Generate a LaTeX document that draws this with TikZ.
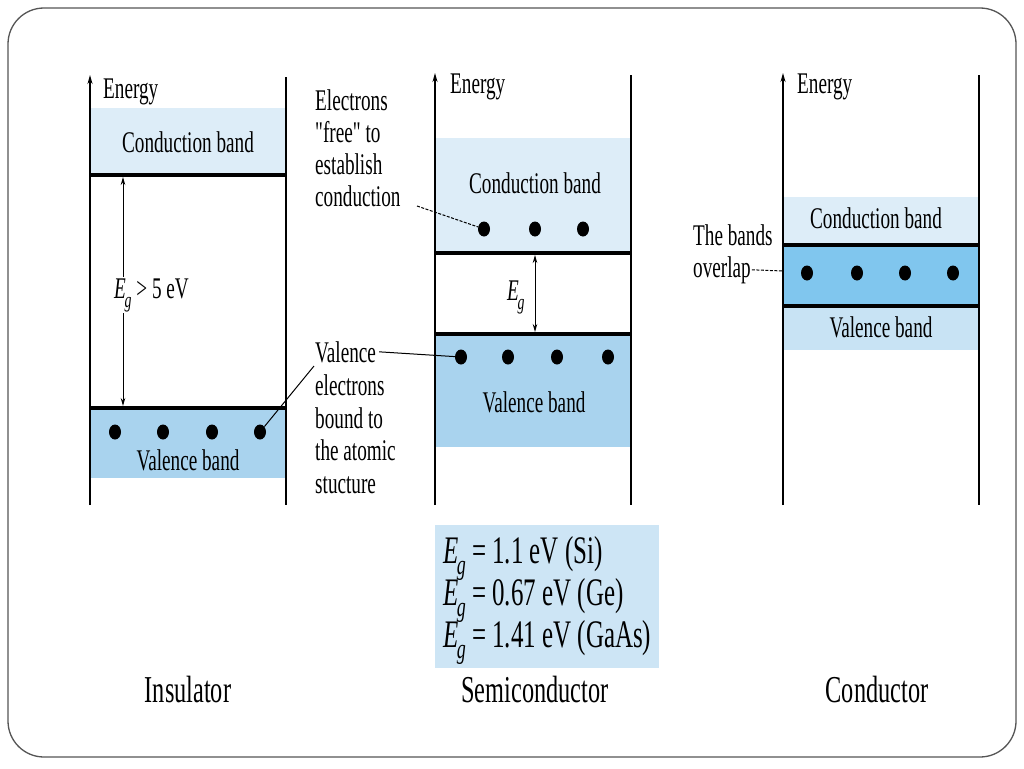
\documentclass[tikz,border=0pt]{standalone}
\usepackage{fontspec}
\usepackage{graphicx}
\setmainfont{Liberation Serif}[FakeStretch=0.64]
\newfontfamily\qf{Liberation Serif}[FakeStretch=0.64,Ligatures=TeXOff]
\usetikzlibrary{arrows.meta,shapes.geometric}
\definecolor{cbfill}{HTML}{DDEDF8}
\definecolor{vbfill}{HTML}{A9D3EE}
\definecolor{ovfill}{HTML}{80C6EE}
\definecolor{egfill}{HTML}{CDE5F5}
\definecolor{framec}{HTML}{555555}
\newcommand\Eg{\textit{E}\kern-0.04em\raisebox{-0.3em}{\scalebox{0.72}{\textit{g}}}}
\newcommand\sq{{\qf"}}
\tikzset{
  frame/.style={draw=framec, line width=1.3pt, rounded corners=36pt},
  axis/.style={line width=1.4pt, -{Stealth[length=9pt,width=5pt]}},
  side/.style={line width=1.4pt},
  edge/.style={line width=3.6pt},
  gaparrow/.style={line width=1pt, {Stealth[length=8pt,width=4.5pt]}-{Stealth[length=8pt,width=4.5pt]}},
  lead/.style={line width=1pt},
  dashlead/.style={line width=1pt, dash pattern=on 3pt off 1.5pt},
  dot/.style={ellipse, fill=black, inner sep=0, minimum width=12pt, minimum height=15pt},
  txt/.style={inner sep=0, font=\fontsize{30}{32}\selectfont, anchor=base},
  ltxt/.style={txt, anchor=base west},
  etxt/.style={ltxt, font=\fontsize{30}{32}\selectfont},
  big/.style={inner sep=0, font=\fontsize{38}{40}\selectfont, anchor=base},
  bigl/.style={big, anchor=base west, font=\fontsize{39}{41}\selectfont}
}
\begin{document}
\begin{tikzpicture}[x=1pt,y=-1pt]
\useasboundingbox (0,0) rectangle (1024,768);
\fill[white] (0,0) rectangle (1024,768);
\draw[frame] (8,8) rectangle (1016,757);

%% ---------------- Insulator ----------------
\fill[cbfill] (90,108) rectangle (286,175);
\fill[vbfill] (90,408) rectangle (286,478);
\coordinate (i-a0) at (90,505); \coordinate (i-a1) at (90,75);
\draw[axis] (i-a0) -- (i-a1);
\draw[side] (286,77) -- (286,505);
\draw[edge] (90,175) -- (286,175);
\draw[edge] (90,408) -- (286,408);
\node[etxt] (i-en) at (103,98) {Energy};
\node[txt] (i-cb) at (188,152) {Conduction band};
\coordinate (i-g0) at (123,177); \coordinate (i-g1) at (123,406);
\draw[gaparrow] (i-g0) -- (i-g1);
\node[ltxt, fill=white, inner sep=1pt] (i-eg) at (113,298) {\Eg{} > 5 eV};
\node[dot] (i-d1) at (115,432) {};
\node[dot] (i-d2) at (163,432) {};
\node[dot] (i-d3) at (212,432) {};
\node[dot] (i-d4) at (260,432) {};
\node[txt] (i-vb) at (188,470) {Valence band};

%% ---------------- Semiconductor ----------------
\fill[cbfill] (435,138) rectangle (631,253);
\fill[vbfill] (435,334) rectangle (631,447);
\coordinate (s-a0) at (435,505); \coordinate (s-a1) at (435,73);
\draw[axis] (s-a0) -- (s-a1);
\draw[side] (631,75) -- (631,505);
\draw[edge] (435,253) -- (631,253);
\draw[edge] (435,334) -- (631,334);
\node[etxt] (s-en) at (450,93) {Energy};
\node[txt] (s-cb) at (535,193) {Conduction band};
\node[dot] (s-c1) at (484,229) {};
\node[dot] (s-c2) at (535,229) {};
\node[dot] (s-c3) at (583,229) {};
\coordinate (s-g0) at (535,255); \coordinate (s-g1) at (535,332);
\draw[gaparrow] (s-g0) -- (s-g1);
\node[ltxt] (s-eg) at (507,300) {\Eg};
\node[dot] (s-d1) at (461,357) {};
\node[dot] (s-d2) at (508,357) {};
\node[dot] (s-d3) at (557,357) {};
\node[dot] (s-d4) at (608,357) {};
\node[txt] (s-vb) at (534,412) {Valence band};

% side labels
\node[ltxt] (s-e1) at (315,110) {Electrons};
\node[ltxt] (s-e2) at (315,142) {\sq free\sq{} to};
\node[ltxt] (s-e3) at (315,174) {establish};
\node[ltxt] (s-e4) at (315,206) {conduction};
\coordinate (s-el) at (417,206);
\draw[dashlead] (s-el) -- (s-c1);

\node[ltxt] (s-v1) at (315,362) {Valence};
\node[ltxt] (s-v2) at (315,395) {electrons};
\node[ltxt] (s-v3) at (315,428) {bound to};
\node[ltxt] (s-v4) at (315,460) {the atomic};
\node[ltxt] (s-v5) at (315,493) {stucture};
\draw[lead] ([xshift=3pt]s-v1.east) -- (s-d1);
\draw[lead] (i-d4) -- ([xshift=-1pt,yshift=-4pt]s-v1.base west);

%% ---------------- Conductor ----------------
\fill[cbfill] (783,197) rectangle (979,245);
\fill[ovfill] (783,245) rectangle (979,306);
\fill[cbfill!60!vbfill] (783,306) rectangle (979,350);
\coordinate (c-a0) at (783,505); \coordinate (c-a1) at (783,73);
\draw[axis] (c-a0) -- (c-a1);
\draw[side] (979,75) -- (979,505);
\draw[edge] (783,245) -- (979,245);
\draw[edge] (783,306) -- (979,306);
\node[etxt] (c-en) at (797,93) {Energy};
\node[txt] (c-cb) at (876,228) {Conduction band};
\node[dot] (c-d1) at (807,273) {};
\node[dot] (c-d2) at (857,273) {};
\node[dot] (c-d3) at (905,273) {};
\node[dot] (c-d4) at (953,273) {};
\node[txt] (c-vb) at (881,337) {Valence band};
\node[ltxt] (c-o1) at (693,245) {The bands};
\node[ltxt] (c-o2) at (693,277) {overlap};
\coordinate (c-ol) at (783,271);
\draw[dashlead] ([xshift=1pt]c-o2.east) -- (c-ol);

%% ---------------- Eg table ----------------
\fill[egfill] (435,525) rectangle (659,668);
\node[bigl] (t1) at (443,563) {\Eg{} = 1.1 eV (Si)};
\node[bigl] (t2) at (443,605) {\Eg{} = 0.67 eV (Ge)};
\node[bigl] (t3) at (443,647) {\Eg{} = 1.41 eV (GaAs)};

%% ---------------- Titles ----------------
\node[big] (lab-i) at (188,702) {Insulator};
\node[big] (lab-s) at (535,702) {Semiconductor};
\node[big] (lab-c) at (877,702) {Conductor};
\end{tikzpicture}
\end{document}
